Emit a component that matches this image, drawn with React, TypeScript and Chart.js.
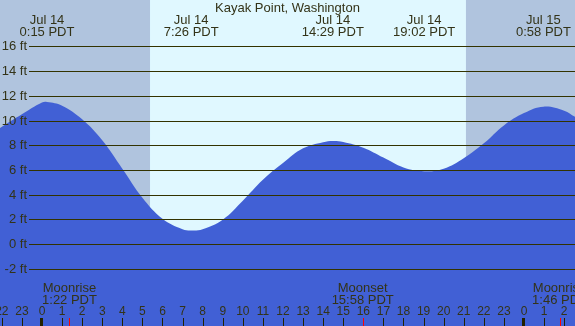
import React, { useEffect, useRef } from 'react';
import { Chart, registerables } from 'chart.js';

Chart.register(...registerables);

const TITLE = 'Kayak Point, Washington';

// hours since Jul 14 00:00 PDT, tide height in feet
const tideHours = [-2.09, -1, 0, 0.25, 1, 2, 3, 4, 5, 6, 7, 7.43, 8, 9, 10, 11, 12, 13, 14, 14.48, 15, 16, 17, 18, 19.03, 20, 21, 22, 23, 24, 24.97, 26, 26.54];
const tideFeet = [9.4, 10.5, 11.45, 11.5, 11.2, 10.1, 8.4, 6.1, 3.75, 2.05, 1.2, 1.1, 1.2, 1.97, 3.5, 5.2, 6.55, 7.75, 8.25, 8.35, 8.27, 7.8, 7.0, 6.2, 5.9, 6.1, 6.95, 8.15, 9.6, 10.6, 11.12, 10.8, 10.3];

const yTicks = [-2, 0, 2, 4, 6, 8, 10, 12, 14, 16];
const yLabels = ['-2 ft', '0 ft', '2 ft', '4 ft', '6 ft', '8 ft', '10 ft', '12 ft', '14 ft', '16 ft'];

const extremeHours = [0.25, 7.43, 14.48, 19.03, 24.97];
const extremeDates = ['Jul 14', 'Jul 14', 'Jul 14', 'Jul 14', 'Jul 15'];
const extremeTimes = ['0:15 PDT', '7:26 PDT', '14:29 PDT', '19:02 PDT', '0:58 PDT'];

const sunriseHour = 5.38;
const sunsetHour = 21.11;

const moonHours = [1.37, 15.97, 25.77];
const moonEvents = ['Moonrise', 'Moonset', 'Moonrise'];
const moonTimes = ['1:22 PDT', '15:58 PDT', '1:46 PDT'];

const hourTicks = [-2, -1, 0, 1, 2, 3, 4, 5, 6, 7, 8, 9, 10, 11, 12, 13, 14, 15, 16, 17, 18, 19, 20, 21, 22, 23, 24, 25, 26];
const hourLabels = ['22', '23', '0', '1', '2', '3', '4', '5', '6', '7', '8', '9', '10', '11', '12', '13', '14', '15', '16', '17', '18', '19', '20', '21', '22', '23', '0', '1', '2'];
const midnightHours = [0, 24];

const X_MIN = -2.09;
const X_MAX = 26.54;
const Y_MIN = -6.64;
const Y_MAX = 19.76;

const NIGHT = '#b0c4de';
const DAY = '#e0f8ff';
const WATER = '#4160d5';
const GRID = '#333300';
const TEXT = '#333318';
const FONT = '"Liberation Sans", Arial, sans-serif';

const overlay = {
  id: 'tideOverlay',
  beforeDatasetsDraw(chart: any) {
    const { ctx, chartArea, scales } = chart;
    const xs = scales.x;
    ctx.save();
    ctx.fillStyle = NIGHT;
    ctx.fillRect(chartArea.left, chartArea.top, chartArea.right - chartArea.left, chartArea.bottom - chartArea.top);
    const x1 = xs.getPixelForValue(sunriseHour);
    const x2 = xs.getPixelForValue(sunsetHour);
    ctx.fillStyle = DAY;
    ctx.fillRect(x1, chartArea.top, x2 - x1, chartArea.bottom - chartArea.top);
    ctx.restore();
  },
  afterDatasetsDraw(chart: any) {
    const { ctx, chartArea, scales } = chart;
    const xs = scales.x;
    const ys = scales.y;
    ctx.save();
    ctx.strokeStyle = GRID;
    ctx.lineWidth = 1;
    ctx.font = '13px ' + FONT;
    ctx.fillStyle = TEXT;
    ctx.textAlign = 'right';
    ctx.textBaseline = 'middle';
    yTicks.forEach((v, i) => {
      const y = Math.round(ys.getPixelForValue(v)) + 0.5;
      ctx.beginPath();
      ctx.moveTo(29, y);
      ctx.lineTo(chartArea.right, y);
      ctx.stroke();
      ctx.fillText(yLabels[i], 27, y);
    });
    ctx.textAlign = 'center';
    ctx.fillText(TITLE, (chartArea.left + chartArea.right) / 2, 8);
    extremeHours.forEach((h, i) => {
      const x = xs.getPixelForValue(h);
      ctx.fillText(extremeDates[i], x, 20);
      ctx.fillText(extremeTimes[i], x, 32);
    });
    moonHours.forEach((h, i) => {
      const x = xs.getPixelForValue(h);
      ctx.fillText(moonEvents[i], x, 288);
      ctx.fillText(moonTimes[i], x, 300);
    });
    ctx.font = '12px ' + FONT;
    hourTicks.forEach((h, i) => {
      const x = xs.getPixelForValue(h);
      ctx.fillText(hourLabels[i], x, 312);
    });
    ctx.fillStyle = '#222200';
    hourTicks.forEach((h) => {
      const x = Math.round(xs.getPixelForValue(h));
      if (midnightHours.includes(h)) {
        ctx.fillRect(x - 2, 318, 3, 8);
      } else {
        ctx.fillRect(x, 318, 1, 8);
      }
    });
    ctx.fillStyle = '#ff0000';
    moonHours.forEach((h) => {
      const x = Math.round(xs.getPixelForValue(h));
      ctx.fillRect(x, 318, 1, 8);
    });
    ctx.restore();
  },
};

export default function App() {
  const ref = useRef<HTMLCanvasElement | null>(null);
  useEffect(() => {
    if (!ref.current) return;
    const chart = new Chart(ref.current, {
      type: 'line',
      data: {
        datasets: [
          {
            data: tideHours.map((h, i) => ({ x: h, y: tideFeet[i] })),
            fill: 'start',
            backgroundColor: WATER,
            borderWidth: 0,
            borderColor: WATER,
            pointRadius: 0,
            tension: 0.4,
          },
        ],
      },
      options: {
        animation: false,
        responsive: false,
        maintainAspectRatio: false,
        layout: { padding: 0 },
        plugins: { legend: { display: false }, title: { display: false }, tooltip: { enabled: false } },
        scales: {
          x: { type: 'linear', min: X_MIN, max: X_MAX, display: false },
          y: { type: 'linear', min: Y_MIN, max: Y_MAX, display: false },
        },
      },
      plugins: [overlay],
    });
    return () => chart.destroy();
  }, []);
  return (
    <div style={{ position: 'absolute', left: 0, top: 0, width: 575, height: 326 }}>
      <canvas ref={ref} width={575} height={326} style={{ display: 'block', width: 575, height: 326 }} />
    </div>
  );
}
